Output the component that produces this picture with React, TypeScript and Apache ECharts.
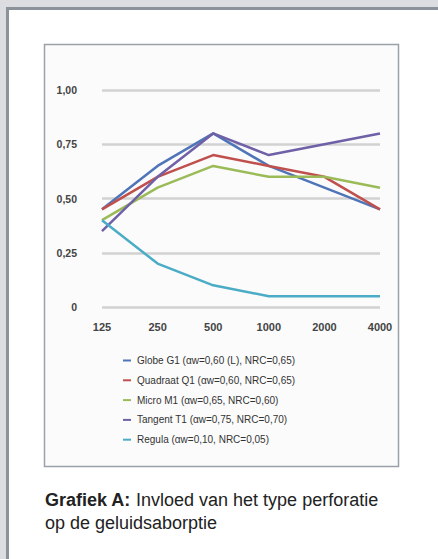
import React, { useEffect, useRef } from "react";
import * as echarts from "echarts";

const categories = ["125", "250", "500", "1000", "2000", "4000"];
const seriesNames = [
  "Globe G1 (αw=0,60 (L), NRC=0,65)",
  "Quadraat Q1 (αw=0,60, NRC=0,65)",
  "Micro M1 (αw=0,65, NRC=0,60)",
  "Tangent T1 (αw=0,75, NRC=0,70)",
  "Regula (αw=0,10, NRC=0,05)",
];
const globe = [0.45, 0.65, 0.8, 0.65, 0.55, 0.45];
const quadraat = [0.45, 0.6, 0.7, 0.65, 0.6, 0.45];
const micro = [0.4, 0.55, 0.65, 0.6, 0.6, 0.55];
const tangent = [0.35, 0.6, 0.8, 0.7, 0.75, 0.8];
const regula = [0.4, 0.2, 0.1, 0.05, 0.05, 0.05];
const seriesValues = [globe, quadraat, micro, tangent, regula];
const colors = ["#4F75B8", "#C0504D", "#9BBB59", "#7060A8", "#4BACC6"];

const FONT = "Liberation Sans, Arial, sans-serif";

export default function App() {
  const ref = useRef<HTMLDivElement>(null);
  useEffect(() => {
    if (!ref.current) return;
    const chart = echarts.init(ref.current, undefined, { renderer: "svg" });
    chart.setOption({
      animation: false,
      backgroundColor: "#ffffff",
      graphic: [
        { type: "rect", z: -10, shape: { x: 0, y: 0, width: 438, height: 7 }, style: { fill: "#dcdde0" } },
        { type: "rect", z: -10, shape: { x: 0, y: 0, width: 6, height: 559 }, style: { fill: "#dcdde0" } },
        { type: "rect", z: -9, shape: { x: 6, y: 7, width: 432, height: 3 }, style: { fill: "#8b9299" } },
        { type: "rect", z: -9, shape: { x: 6, y: 7, width: 3, height: 552 }, style: { fill: "#8b9299" } },
        {
          type: "rect",
          z: -8,
          shape: { x: 44.5, y: 44.5, width: 354, height: 422 },
          style: { fill: "#fbfbfb", stroke: "#9aa1a8", lineWidth: 1.5 },
        },
        {
          type: "text",
          x: 45,
          y: 488,
          style: {
            text: "{b|Grafiek A:} Invloed van het type perforatie\nop de geluidsaborptie",
            fontFamily: FONT,
            fontSize: 18,
            lineHeight: 23,
            fill: "#222222",
            rich: {
              b: { fontWeight: "bold", fontSize: 18, lineHeight: 23, fill: "#222222", fontFamily: FONT },
            },
          },
        },
      ],
      grid: { left: 102, right: 58, top: 90, bottom: 252, containLabel: false },
      xAxis: {
        type: "category",
        data: categories,
        boundaryGap: false,
        axisLine: { show: false },
        axisTick: { show: false },
        axisLabel: {
          margin: 14,
          fontSize: 11,
          fontWeight: "bold",
          color: "#444",
          fontFamily: FONT,
        },
      },
      yAxis: {
        type: "value",
        min: 0,
        max: 1,
        interval: 0.25,
        axisLine: { show: false },
        axisTick: { show: false },
        splitLine: { lineStyle: { color: "#d2d2d2", width: 2.5 } },
        axisLabel: {
          margin: 25,
          fontSize: 10.5,
          fontWeight: "bold",
          color: "#444",
          fontFamily: FONT,
          formatter: (v: number) => (v === 0 ? "0" : v.toFixed(2).replace(".", ",")),
        },
      },
      legend: {
        orient: "vertical",
        left: 123,
        top: 355.5,
        padding: 0,
        itemWidth: 8,
        itemHeight: 2,
        itemGap: 9.8,
        icon: "rect",
        data: seriesNames,
        textStyle: {
          fontSize: 10,
          color: "#333",
          fontFamily: FONT,
          padding: [0, 0, 0, 1],
        },
      },
      series: seriesNames.map((name, i) => ({
        name,
        type: "line",
        data: seriesValues[i],
        symbol: "none",
        lineStyle: { width: 2.5, color: colors[i] },
        itemStyle: { color: colors[i] },
      })),
    });
    return () => chart.dispose();
  }, []);
  return (
    <div
      ref={ref}
      style={{ position: "fixed", left: 0, top: 0, width: 438, height: 559 }}
    />
  );
}
